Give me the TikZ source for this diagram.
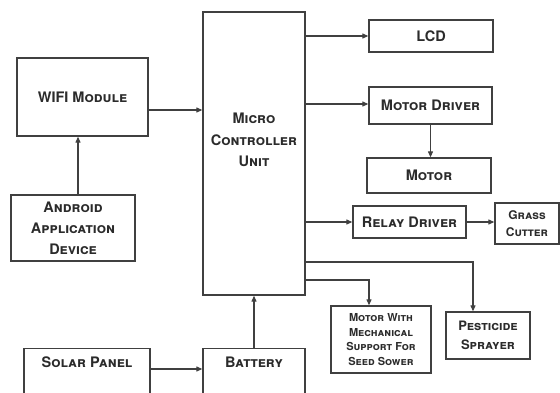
\documentclass[tikz,border=0pt]{standalone}
\usepackage{fontspec}
\setmainfont{TeX Gyre Heros}
\usetikzlibrary{arrows.meta,positioning}
\definecolor{boxInk}{HTML}{404040}
\definecolor{textInk}{HTML}{2B2B2B}

\begin{document}
\begin{tikzpicture}[x=1pt,y=-1pt,>={Triangle[length=6pt,width=5pt]},
  block/.style={draw=boxInk,line width=1.3pt,align=center,inner sep=2pt,
    text=textInk,font=\fontsize{14.5}{21}\selectfont\bfseries\scshape},
  small/.style={font=\fontsize{12}{17}\selectfont\bfseries\scshape},
  link/.style={->,draw=boxInk,line width=1.1pt}
]
  \clip (0,0) rectangle (560,392);
  \useasboundingbox (0,0) rectangle (560,392);

  % left column
  \node[block,minimum width=131pt,minimum height=78pt] (wifi) at (82.5,97) {WIFI Module};
  \node[block,minimum width=124pt,minimum height=66pt] (android) at (73,228)
    {Android\\Application\\Device};

  % controller
  \node[block,minimum width=102pt,minimum height=283pt] (mcu) at (254,153.5) {};
  \node[text=textInk,align=center,font=\fontsize{14.5}{21.5}\selectfont\bfseries\scshape] (mcutext) at (254,140)
    {Micro\\Controller\\Unit};

  % outputs
  \node[block,minimum width=124pt,minimum height=32pt] (lcd) at (431,36) {LCD};
  \node[block,minimum width=123pt,minimum height=37pt] (mdrv) at (430.5,105.5) {Motor Driver};
  \node[block,minimum width=124pt,minimum height=35pt] (motor) at (429,175.5) {Motor};
  \node[block,minimum width=113pt,minimum height=32pt] (relay) at (409.5,222) {Relay Driver};
  \node[block,small,minimum width=64pt,minimum height=41pt] (grass) at (527,223.5) {Grass\\Cutter};
  \node[block,minimum width=84pt,minimum height=47pt,font=\fontsize{13}{19}\selectfont\bfseries\scshape] (pest) at (488,335.5)
    {Pesticide\\Sprayer};
  \node[block,minimum width=100pt,minimum height=67pt,font=\fontsize{11}{14.5}\selectfont\bfseries\scshape] (seed) at (381,339.5)
    {Motor With\\Mechanical\\Support For\\Seed Sower};

  % power (boxes run past the bottom edge)
  \node[block,minimum width=126pt,text height=15pt,text depth=40pt,inner sep=4pt,anchor=north] (solar) at (87,348) {Solar Panel};
  \node[block,minimum width=102pt,text height=15pt,text depth=40pt,inner sep=4pt,anchor=north] (bat) at (254,348) {Battery};

  \coordinate (tapP) at (305,262);
  \coordinate (tapS) at (305,280);
  \coordinate (andtop) at (78,195);

  \draw[link] (wifi.east |- 0,110) -- (mcu.west |- 0,110);
  \draw[link] (andtop) -- (andtop |- wifi.south);
  \draw[link] (mcu.east |- lcd.west) -- (lcd.west);
  \draw[link] (mcu.east |- 0,104) -- (mdrv.west |- 0,104);
  \draw[link] (mdrv.south) -- (mdrv.south |- motor.north);
  \draw[link] (mcu.east |- relay.west) -- (relay.west);
  \draw[link] (relay.east) -- (relay.east -| grass.west);
  \draw[link] (tapP) -| ([xshift=-15pt]pest.north);
  \draw[link] (tapS) -| ([xshift=-12pt]seed.north);
  \draw[link] (solar.east |- 0,369) -- (bat.west |- 0,369);
  \draw[link] (bat.north) -- (mcu.south);
\end{tikzpicture}
\end{document}
